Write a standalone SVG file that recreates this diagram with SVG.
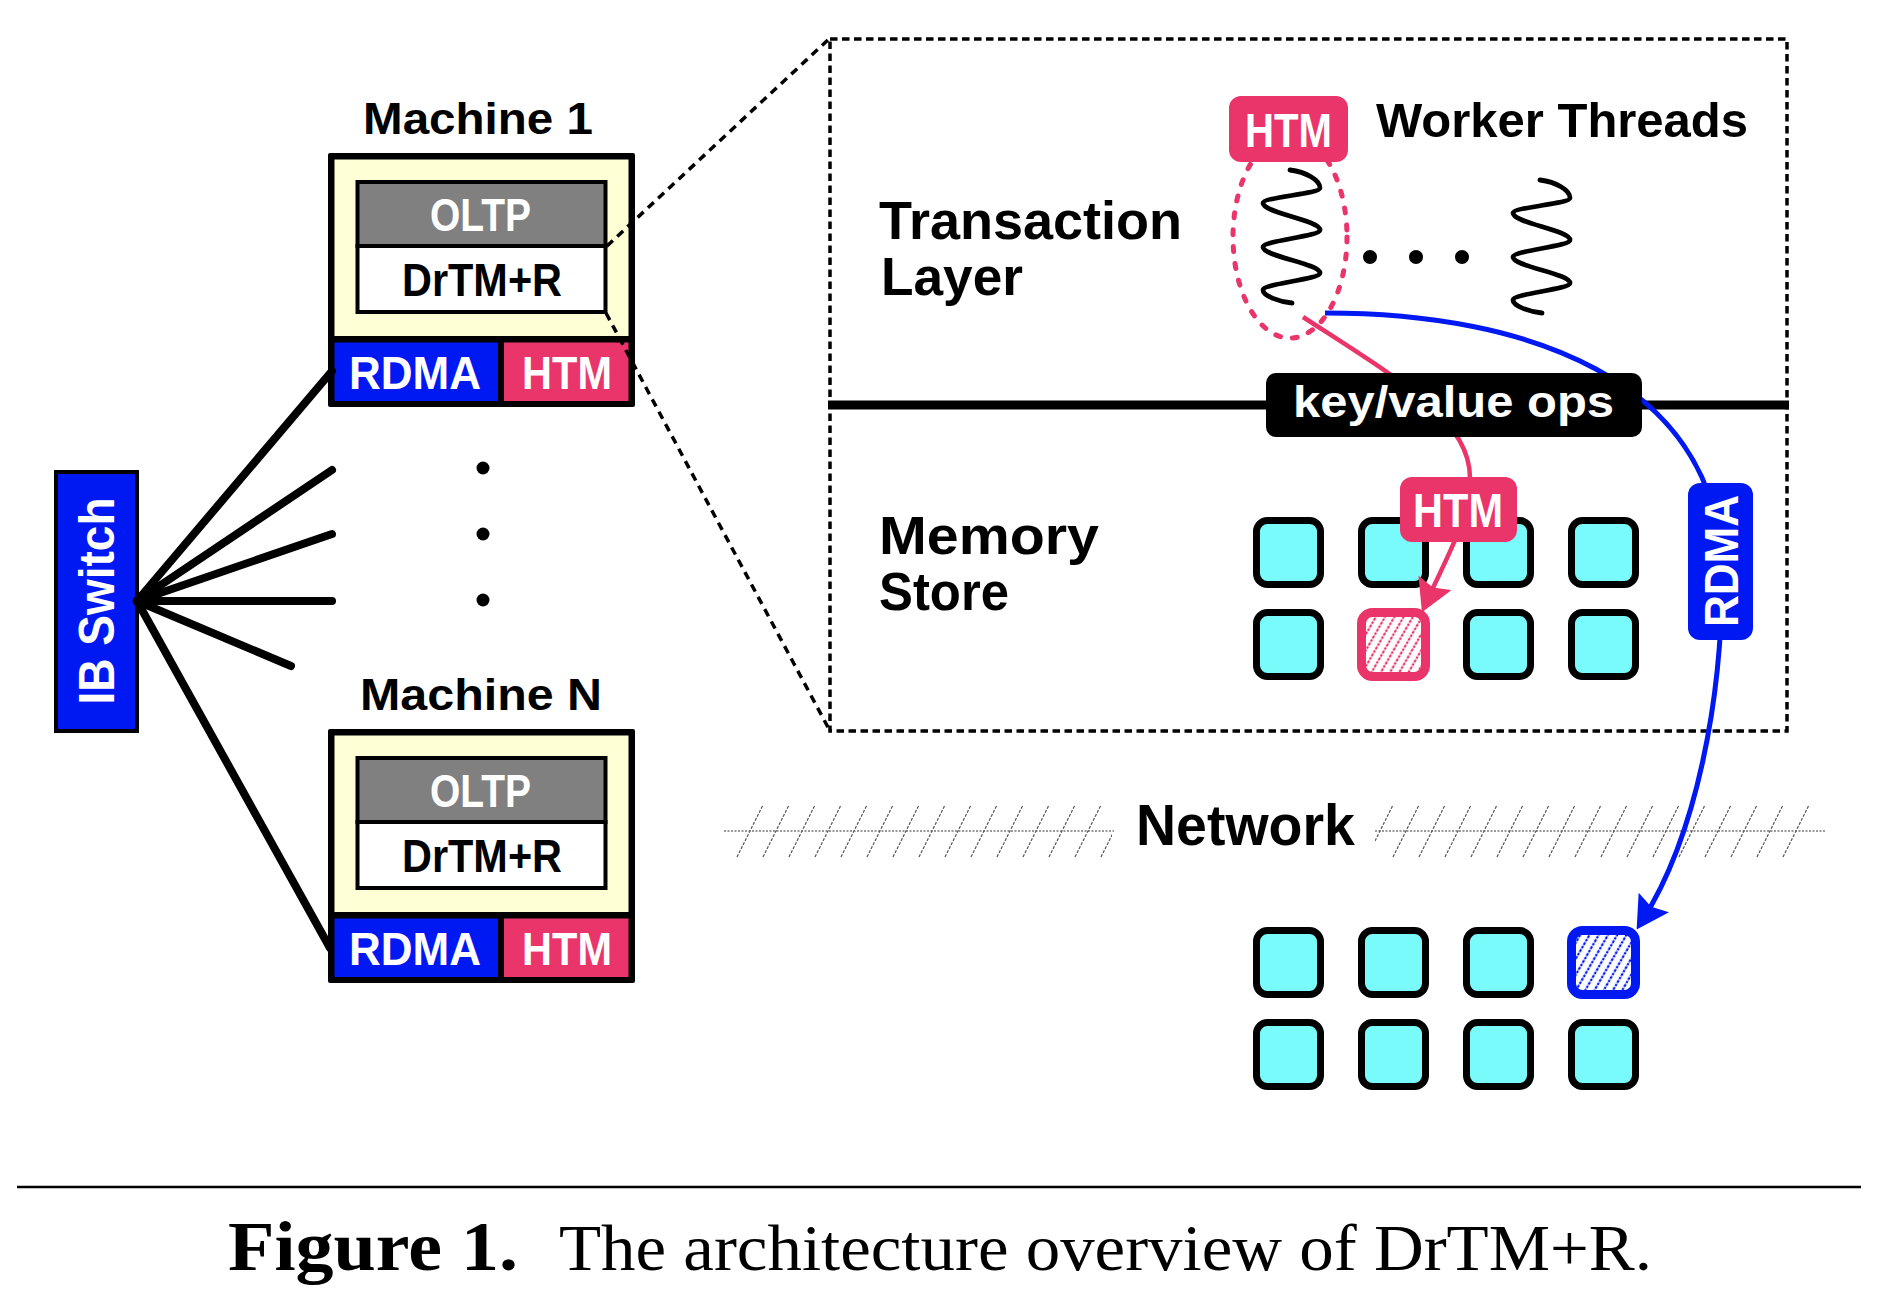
<svg xmlns="http://www.w3.org/2000/svg" xmlns:xlink="http://www.w3.org/1999/xlink" width="1880" height="1308" viewBox="0 0 1880 1308">
<style>
.t{font-family:"Liberation Sans",Arial,sans-serif;font-weight:bold;fill:#000}
.w{fill:#fff}
.cell{fill:#79FBFB;stroke:#000;stroke-width:7}
.blue{fill:#0019F2}
.pink{fill:#E9356A}
.wire{fill:none;stroke:#000;stroke-width:8;stroke-linecap:round}
.zoomline{fill:none;stroke:#000;stroke-width:3.5;stroke-dasharray:8 6}
.hatch{fill:none;stroke:#555;stroke-width:1.2;stroke-dasharray:3 1.5}
.cap{font-family:"Liberation Serif","Times New Roman",serif;fill:#000}
</style>
<defs>
<marker id="arrowPink" viewBox="0 0 32 36" refX="22" refY="18" markerUnits="userSpaceOnUse" markerWidth="32" markerHeight="36" orient="auto">
<path d="M0,0 L32,18 L0,36 L5,18 Z" fill="#E9356A"/>
</marker>
<marker id="arrowBlue" viewBox="0 0 32 36" refX="22" refY="18" markerUnits="userSpaceOnUse" markerWidth="32" markerHeight="36" orient="auto">
<path d="M0,0 L32,18 L0,36 L5,18 Z" fill="#0019F2"/>
</marker>
<pattern id="hatchPink" width="8" height="8" patternUnits="userSpaceOnUse" patternTransform="rotate(30)">
<rect width="8" height="8" fill="#fff"/>
<line x1="4" y1="0" x2="4" y2="8" stroke="#E9356A" stroke-width="2.2" stroke-dasharray="2.5 1.2"/>
</pattern>
<pattern id="hatchBlue" width="8" height="8" patternUnits="userSpaceOnUse" patternTransform="rotate(30)">
<rect width="8" height="8" fill="#fff"/>
<line x1="4" y1="0" x2="4" y2="8" stroke="#0019F2" stroke-width="2.2" stroke-dasharray="2.5 1.2"/>
</pattern>
<path id="wave" d="M1290,170 C1306,172 1320,180 1320,188 C1320,193.5 1263,197.5 1263,203 C1263,212.8 1320,220.2 1320,230 C1320,236.2 1263,240.8 1263,247 C1263,256.5 1320,263.5 1320,273 C1320,279.2 1263,283.8 1263,290 C1263,296 1280,302 1292,303" fill="none" stroke="#000" stroke-width="4.8" stroke-linecap="round"/>
<clipPath id="clipL"><rect x="724" y="800" width="388" height="62"/></clipPath>
<clipPath id="clipR"><rect x="1375" y="800" width="455" height="62"/></clipPath>
</defs>

<rect width="1880" height="1308" fill="#fff"/>

<!-- IB switch -->
<g id="ibswitch">
<rect x="56" y="472" width="81" height="259" class="blue" stroke="#000" stroke-width="4"/>
<text class="t w" transform="translate(114,601) rotate(-90)" x="-103.5" y="0" font-size="50" textLength="207" lengthAdjust="spacingAndGlyphs">IB Switch</text>
</g>

<!-- Machine 1 -->
<g id="machine1">
<text class="t" x="363" y="134" font-size="45" textLength="230" lengthAdjust="spacingAndGlyphs">Machine 1</text>
<rect x="328" y="153" width="307" height="254" rx="2" fill="#000"/>
<rect x="334.5" y="159.5" width="294" height="176.5" fill="#FFFFD6"/>
<rect x="357.5" y="182" width="248" height="64" fill="#808080" stroke="#000" stroke-width="4"/>
<rect x="357.5" y="246" width="248" height="66" fill="#fff" stroke="#000" stroke-width="4"/>
<rect x="334.5" y="342.5" width="163.5" height="58.5" class="blue"/>
<rect x="504" y="342.5" width="124.5" height="58.5" class="pink"/>
<text class="t w" x="430" y="231" font-size="47" textLength="101" lengthAdjust="spacingAndGlyphs">OLTP</text>
<text class="t" x="402" y="296" font-size="46" textLength="160" lengthAdjust="spacingAndGlyphs">DrTM+R</text>
<text class="t w" x="349" y="389" font-size="47" textLength="132" lengthAdjust="spacingAndGlyphs">RDMA</text>
<text class="t w" x="522" y="389" font-size="47" textLength="90" lengthAdjust="spacingAndGlyphs">HTM</text>
</g>

<!-- Machine N -->
<g id="machineN">
<text class="t" x="360" y="710" font-size="45" textLength="242" lengthAdjust="spacingAndGlyphs">Machine N</text>
<g transform="translate(0,576)">
<rect x="328" y="153" width="307" height="254" rx="2" fill="#000"/>
<rect x="334.5" y="159.5" width="294" height="176.5" fill="#FFFFD6"/>
<rect x="357.5" y="182" width="248" height="64" fill="#808080" stroke="#000" stroke-width="4"/>
<rect x="357.5" y="246" width="248" height="66" fill="#fff" stroke="#000" stroke-width="4"/>
<rect x="334.5" y="342.5" width="163.5" height="58.5" class="blue"/>
<rect x="504" y="342.5" width="124.5" height="58.5" class="pink"/>
<text class="t w" x="430" y="231" font-size="47" textLength="101" lengthAdjust="spacingAndGlyphs">OLTP</text>
<text class="t" x="402" y="296" font-size="46" textLength="160" lengthAdjust="spacingAndGlyphs">DrTM+R</text>
<text class="t w" x="349" y="389" font-size="47" textLength="132" lengthAdjust="spacingAndGlyphs">RDMA</text>
<text class="t w" x="522" y="389" font-size="47" textLength="90" lengthAdjust="spacingAndGlyphs">HTM</text>
</g>
</g>

<!-- ellipsis dots between machines -->
<g id="machineDots" fill="#000">
<circle cx="483" cy="468" r="6.5"/>
<circle cx="483" cy="534" r="6.5"/>
<circle cx="483" cy="600" r="6.5"/>
</g>

<!-- zoomed machine: dashed frame and layers -->
<g id="machineDetail">
<rect x="830" y="39" width="957" height="692" fill="none" stroke="#000" stroke-width="3.5" stroke-dasharray="7.5 4.5"/>
<line x1="828" y1="405" x2="1789" y2="405" stroke="#000" stroke-width="9"/>
</g>

<g id="transactionLayer">
<text class="t" x="879" y="239" font-size="54" textLength="303" lengthAdjust="spacingAndGlyphs">Transaction</text>
<text class="t" x="881" y="295" font-size="54" textLength="142" lengthAdjust="spacingAndGlyphs">Layer</text>
</g>

<g id="memoryStoreLabel">
<text class="t" x="879" y="554" font-size="54" textLength="220" lengthAdjust="spacingAndGlyphs">Memory</text>
<text class="t" x="879" y="610" font-size="54" textLength="130" lengthAdjust="spacingAndGlyphs">Store</text>
</g>

<g id="workerThreads">
<text class="t" x="1376" y="137" font-size="49" textLength="372" lengthAdjust="spacingAndGlyphs">Worker Threads</text>
<use href="#wave" xlink:href="#wave"/>
<use href="#wave" xlink:href="#wave" x="250" y="10"/>
<circle cx="1370" cy="257" r="7"/>
<circle cx="1416" cy="257" r="7"/>
<circle cx="1462" cy="257" r="7"/>
</g>

<g id="htmScope">
<ellipse cx="1290" cy="237" rx="57" ry="101" fill="none" stroke="#E9356A" stroke-width="5" stroke-dasharray="5 12" stroke-linecap="round"/>
<rect x="1229" y="96" width="119" height="66" rx="12" class="pink"/>
<text class="t w" x="1245" y="147" font-size="48" textLength="87" lengthAdjust="spacingAndGlyphs">HTM</text>
</g>

<!-- local memory store cells -->
<g id="localStore">
<rect class="cell" x="1256.5" y="520.5" width="64" height="64" rx="11"/>
<rect class="cell" x="1361.5" y="520.5" width="64" height="64" rx="11"/>
<rect class="cell" x="1466.5" y="520.5" width="64" height="64" rx="11"/>
<rect class="cell" x="1571.5" y="520.5" width="64" height="64" rx="11"/>
<rect class="cell" x="1256.5" y="612.5" width="64" height="64" rx="11"/>
<rect x="1361.5" y="612.5" width="64" height="64" rx="11" fill="url(#hatchPink)" stroke="#E9356A" stroke-width="9"/>
<rect class="cell" x="1466.5" y="612.5" width="64" height="64" rx="11"/>
<rect class="cell" x="1571.5" y="612.5" width="64" height="64" rx="11"/>
</g>

<!-- network -->
<g id="network">
<line x1="724" y1="831" x2="1114" y2="831" stroke="#333" stroke-width="1.2" stroke-dasharray="2 1.5"/>
<line x1="1375" y1="831" x2="1826" y2="831" stroke="#333" stroke-width="1.2" stroke-dasharray="2 1.5"/>
<path class="hatch" clip-path="url(#clipL)" d="M737,857l26,-52M763,857l26,-52M789,857l26,-52M815,857l26,-52M841,857l26,-52M867,857l26,-52M893,857l26,-52M919,857l26,-52M945,857l26,-52M971,857l26,-52M997,857l26,-52M1023,857l26,-52M1049,857l26,-52M1075,857l26,-52M1101,857l26,-52"/>
<path class="hatch" clip-path="url(#clipR)" d="M1367,857l26,-52M1393,857l26,-52M1419,857l26,-52M1445,857l26,-52M1471,857l26,-52M1497,857l26,-52M1523,857l26,-52M1549,857l26,-52M1575,857l26,-52M1601,857l26,-52M1627,857l26,-52M1653,857l26,-52M1679,857l26,-52M1705,857l26,-52M1731,857l26,-52M1757,857l26,-52M1783,857l26,-52"/>
<text class="t" x="1136" y="845" font-size="57" textLength="219" lengthAdjust="spacingAndGlyphs">Network</text>
</g>

<!-- remote memory store cells -->
<g id="remoteStore">
<rect class="cell" x="1256.5" y="930.5" width="64" height="64" rx="11"/>
<rect class="cell" x="1361.5" y="930.5" width="64" height="64" rx="11"/>
<rect class="cell" x="1466.5" y="930.5" width="64" height="64" rx="11"/>
<rect x="1571.5" y="930.5" width="64" height="64" rx="11" fill="url(#hatchBlue)" stroke="#0019F2" stroke-width="9"/>
<rect class="cell" x="1256.5" y="1022.5" width="64" height="64" rx="11"/>
<rect class="cell" x="1361.5" y="1022.5" width="64" height="64" rx="11"/>
<rect class="cell" x="1466.5" y="1022.5" width="64" height="64" rx="11"/>
<rect class="cell" x="1571.5" y="1022.5" width="64" height="64" rx="11"/>
</g>

<!-- connectors -->
<g id="connectors">
<line class="wire" x1="137" y1="601" x2="332" y2="371"/>
<line class="wire" x1="137" y1="601" x2="332" y2="470"/>
<line class="wire" x1="137" y1="601" x2="332" y2="534"/>
<line class="wire" x1="137" y1="601" x2="332" y2="601"/>
<line class="wire" x1="137" y1="601" x2="291" y2="666"/>
<line class="wire" x1="137" y1="601" x2="330" y2="948"/>
<line class="zoomline" x1="607" y1="246" x2="830" y2="38"/>
<line class="zoomline" x1="606" y1="313" x2="830" y2="731"/>
<path d="M1303,317 C1400,380 1470,420 1470,478 C1470,520 1445,560 1426,603" fill="none" stroke="#E9356A" stroke-width="4.5" marker-end="url(#arrowPink)"/>
<path d="M1325,313 C1530,313 1710,380 1722,560 C1724,700 1695,838 1642,921" fill="none" stroke="#0019F2" stroke-width="5" marker-end="url(#arrowBlue)"/>
</g>

<!-- labels on top of connectors -->
<g id="kvOps">
<rect x="1266" y="373" width="376" height="64" rx="10" fill="#000"/>
<text class="t w" x="1293" y="417" font-size="45" textLength="321" lengthAdjust="spacingAndGlyphs">key/value ops</text>
</g>

<g id="htmTag">
<rect x="1400" y="477" width="117" height="65" rx="12" class="pink"/>
<text class="t w" x="1413" y="527" font-size="48" textLength="90" lengthAdjust="spacingAndGlyphs">HTM</text>
</g>

<g id="rdmaTag">
<rect x="1688" y="483" width="65" height="157" rx="12" class="blue"/>
<text class="t w" transform="translate(1738,561) rotate(-90)" x="-66" y="0" font-size="48" textLength="132" lengthAdjust="spacingAndGlyphs">RDMA</text>
</g>

<!-- caption -->
<g id="caption">
<line x1="17" y1="1187" x2="1861" y2="1187" stroke="#000" stroke-width="2.5"/>
<text class="cap" x="228" y="1270" font-size="70" font-weight="bold" textLength="290" lengthAdjust="spacingAndGlyphs">Figure 1.</text>
<text class="cap" x="559" y="1270" font-size="66" textLength="1093" lengthAdjust="spacingAndGlyphs">The architecture overview of DrTM+R.</text>
</g>
</svg>
